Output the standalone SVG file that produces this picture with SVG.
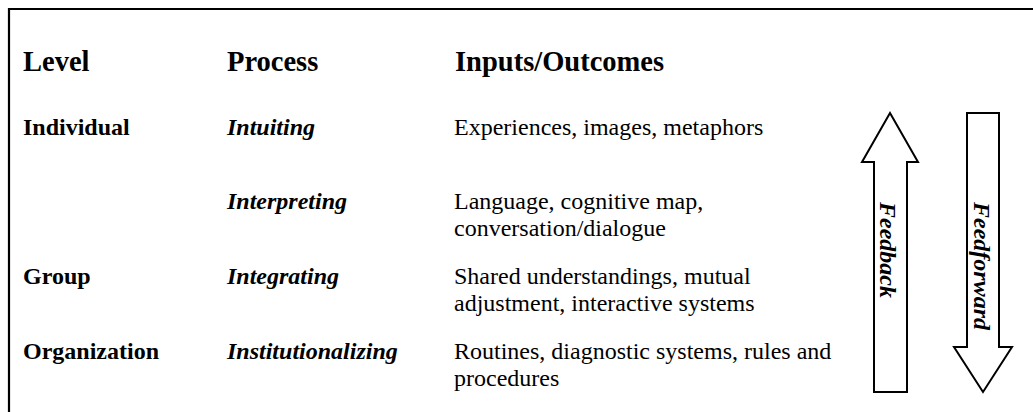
<svg xmlns="http://www.w3.org/2000/svg" width="1033" height="412" viewBox="0 0 1033 412">
  <style>
    .hd { font-size: 28.5px; font-weight: bold; }
    .lv { font-size: 24px; font-weight: bold; }
    .pr { font-size: 24px; font-weight: bold; font-style: italic; }
    .io { font-size: 24px; }
    .arrow { fill: #fff; stroke: #000; stroke-width: 2; stroke-linejoin: miter; }
    .frame { fill: none; stroke: #000; stroke-width: 2.2; }
  </style>

  <rect width="1033" height="412" fill="#fff"/>

  <!-- outer frame (open to the right and bottom) -->
  <path class="frame" d="M9,412 V9 H1033"/>

  <g font-family="Liberation Serif, serif" fill="#000">
    <!-- column headings -->
    <g id="headings">
      <text class="hd" x="23" y="71">Level</text>
      <text class="hd" x="227" y="71">Process</text>
      <text class="hd" x="455" y="71">Inputs/Outcomes</text>
    </g>

    <g id="row-intuiting">
      <text class="lv" x="23" y="135">Individual</text>
      <text class="pr" x="227" y="135">Intuiting</text>
      <text class="io" x="454" y="135">Experiences, images, metaphors</text>
    </g>

    <g id="row-interpreting">
      <text class="pr" x="227" y="209">Interpreting</text>
      <text class="io" x="454" y="209">Language, cognitive map,</text>
      <text class="io" x="454" y="236">conversation/dialogue</text>
    </g>

    <g id="row-integrating">
      <text class="lv" x="23" y="284">Group</text>
      <text class="pr" x="227" y="284">Integrating</text>
      <text class="io" x="454" y="284">Shared understandings, mutual</text>
      <text class="io" x="454" y="311">adjustment, interactive systems</text>
    </g>

    <g id="row-institutionalizing">
      <text class="lv" x="23" y="359">Organization</text>
      <text class="pr" x="227" y="359">Institutionalizing</text>
      <text class="io" x="454" y="359">Routines, diagnostic systems, rules and</text>
      <text class="io" x="454" y="386">procedures</text>
    </g>

    <!-- block arrows -->
    <g id="connectors">
      <g id="feedback">
        <polygon class="arrow" points="890,113 918,162 907,162 907,392 874,392 874,162 862,162"/>
        <text class="pr" transform="translate(880,202) rotate(90)" x="0" y="0">Feedback</text>
      </g>
      <g id="feedforward">
        <polygon class="arrow" points="967,113 999,113 999,347 1012,347 983,392 954,347 967,347"/>
        <text class="pr" transform="translate(974,202) rotate(90)" x="0" y="0">Feedforward</text>
      </g>
    </g>
  </g>
</svg>
